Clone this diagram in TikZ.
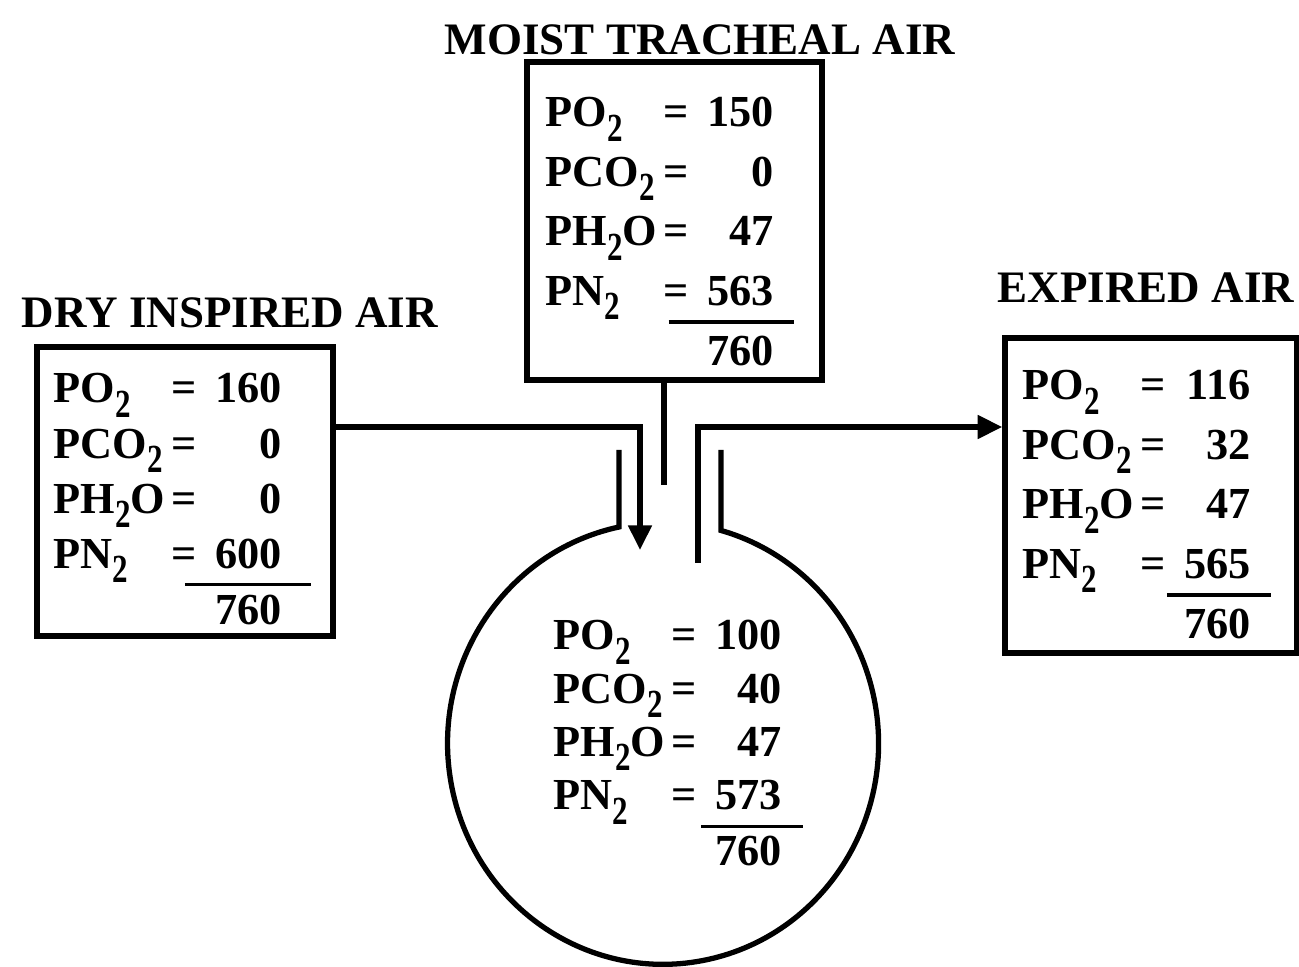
\documentclass[tikz,border=0pt]{standalone}
\usepackage{fontspec}
\setmainfont{Liberation Serif}
\usepackage{graphicx}
\usetikzlibrary{arrows.meta}
\newcommand{\subtwo}{\raisebox{-0.7ex}{\scalebox{0.7}[0.9]{2}}}
% #5 = overhang of the sum rule, #6 = its width
\newcommand{\gastab}[6]{%
\begin{tabular}[t]{@{}l@{\hspace{1.8pt}}c@{\hspace{5.2pt}}r@{}}
PO\subtwo & = & #1\\
PCO\subtwo & = & #2\\
PH\subtwo O & = & #3\\
PN\subtwo & = & #4\makebox[0pt][l]{\hspace{#5}\llap{\rule[-5.2pt]{#6}{0.9pt}}}\\
 & & 760
\end{tabular}}
\tikzset{box/.style={rectangle,draw,line width=1.5pt,inner sep=0pt},
  title/.style={font=\fontsize{12.8}{15}\selectfont\bfseries,anchor=base,inner sep=0pt},
  vals/.style={font=\fontsize{12.6}{#1}\selectfont\bfseries,anchor=base west,inner sep=0pt},
  vals/.default=15.9pt,
  pipe/.style={line width=1.5pt},
  line/.style={pipe,-{Triangle[length=7pt,width=6.5pt]}}}

\begin{document}
\begin{tikzpicture}[x=0.01cm,y=-0.01cm]
\useasboundingbox (0,0) rectangle (1299,967);
% boxes
\node[box,minimum width=2.96cm,minimum height=2.89cm] (dry) at (185,491.5) {};
\node[box,minimum width=2.95cm,minimum height=3.18cm] (trach) at (674.5,221) {};
\node[box,minimum width=2.92cm,minimum height=3.15cm] (exp) at (1151,495.5) {};
% titles
\node[title] (drytitle) at (230,328) {DRY INSPIRED AIR};
\node[title] (trachtitle) at (700,55) {MOIST TRACHEAL AIR};
\node[title] (exptitle) at (1146,303) {EXPIRED AIR};
% values
\node[vals=15.65pt] (drytab) at (53,403) {\gastab{160}{0}{0}{600}{8.5pt}{36pt}};
\node[vals=16.9pt] (trachtab) at (545,127) {\gastab{150}{0}{47}{563}{5.7pt}{35.5pt}};
\node[vals=16.9pt] (exptab) at (1022,400) {\gastab{116}{32}{47}{565}{5.7pt}{29.5pt}};
\node[vals=15.15pt] (alv) at (553,650) {\gastab{100}{40}{47}{573}{6.2pt}{29pt}};
% airway
\coordinate (inbend) at (640,427);
\coordinate (intip) at (640,550);
\coordinate (trachend) at (664,485);
\coordinate (outfoot) at (698,563);
\coordinate (lstub) at (619,450);
\coordinate (rstub) at (721,450);
\draw[line] (dry.east |- inbend) -| (intip);
\draw[pipe] (trach.south -| trachend) -- (trachend);
\draw[line] (outfoot) |- (exp.west |- inbend);
\draw[pipe] (lstub) -- ++(0,77) arc[start angle=258.2,end angle=-74.4,x radius=215.5,y radius=221] -- (rstub);
\end{tikzpicture}
\end{document}
